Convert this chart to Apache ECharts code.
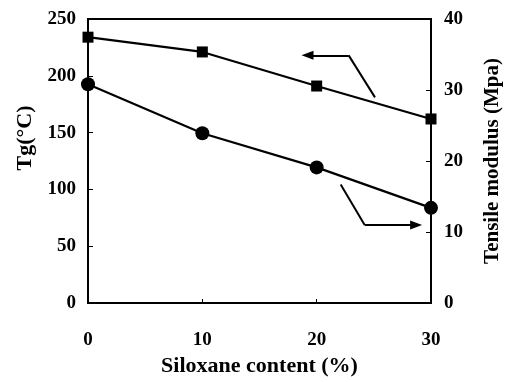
<!DOCTYPE html>
<html>
<head>
<meta charset="utf-8">
<script src="https://cdn.jsdelivr.net/npm/echarts@6/dist/echarts.min.js"></script>
<style>
  html, body { margin: 0; padding: 0; background: #fff; }
  #chart { width: 511px; height: 382px; }
</style>
</head>
<body>
<div id="chart"></div>
<script>
// siloxane content (%) on x
const siloxane = [0, 10, 20, 30];
// Tg (left axis), squares
const tgValues = [234, 221, 191, 162];
// tensile modulus (right axis), circles
const modulusValues = [30.8, 23.9, 19.1, 13.4];

// arrow paths in data units: [x, y]
const tgArrow = [[25.1, 181], [22.8, 218], [19.2, 218]];
const modArrow = [[22.1, 16.7], [24.2, 11.0], [28.7, 11.0]];

const font = 'Liberation Serif';
const black = '#000';

const arrowLines = (pts) => [
  [{ coord: pts[0], symbol: 'none' }, { coord: pts[1], symbol: 'none' }],
  [{ coord: pts[1], symbol: 'none' }, { coord: pts[2], symbol: 'triangle', symbolSize: [9, 12] }],
];

const chart = echarts.init(document.getElementById('chart'));

chart.setOption({
  animation: false,
  grid: {
    left: 88, right: 76, top: 19, bottom: 75,
    show: true, borderColor: black, borderWidth: 2, backgroundColor: 'transparent',
  },
  xAxis: {
    type: 'value', min: 0, max: 30, interval: 10,
    name: 'Siloxane content (%)', nameLocation: 'middle', nameGap: 52,
    nameTextStyle: { fontFamily: font, fontWeight: 'bold', fontSize: 22, color: black },
    axisLine: { lineStyle: { color: black, width: 2 } },
    axisTick: { inside: true, length: 4, lineStyle: { color: black } },
    axisLabel: { margin: 28, fontFamily: font, fontWeight: 'bold', fontSize: 19, color: black },
    splitLine: { show: false },
  },
  yAxis: [
    {
      type: 'value', min: 0, max: 250, interval: 50, position: 'left',
      name: 'Tg(°C)', nameLocation: 'middle', nameGap: 48, nameRotate: 90,
      nameTextStyle: { fontFamily: font, fontWeight: 'bold', fontSize: 22, color: black, padding: [0, 0, 0, 46] },
      axisLine: { show: true, lineStyle: { color: black, width: 2 } },
      axisTick: { show: true, inside: true, length: 5, lineStyle: { color: black } },
      axisLabel: { margin: 12, fontFamily: font, fontWeight: 'bold', fontSize: 19, color: black },
      splitLine: { show: false },
    },
    {
      type: 'value', min: 0, max: 40, interval: 10, position: 'right',
      name: 'Tensile modulus (Mpa)', nameLocation: 'middle', nameGap: 51, nameRotate: 90,
      nameTextStyle: { fontFamily: font, fontWeight: 'bold', fontSize: 21, color: black },
      axisLine: { show: true, lineStyle: { color: black, width: 2 } },
      axisTick: { show: true, inside: true, length: 5, lineStyle: { color: black } },
      axisLabel: { margin: 13, fontFamily: font, fontWeight: 'bold', fontSize: 19, color: black },
      splitLine: { show: false },
    },
  ],
  series: [
    {
      name: 'Tg', type: 'line', yAxisIndex: 0,
      data: siloxane.map((x, i) => [x, tgValues[i]]),
      symbol: 'rect', symbolSize: 11,
      itemStyle: { color: black },
      lineStyle: { color: black, width: 2.2 },
      markLine: {
        silent: true, animation: false,
        lineStyle: { color: black, width: 2, type: 'solid' },
        label: { show: false },
        data: arrowLines(tgArrow),
      },
    },
    {
      name: 'Tensile modulus', type: 'line', yAxisIndex: 1,
      data: siloxane.map((x, i) => [x, modulusValues[i]]),
      symbol: 'circle', symbolSize: 14,
      itemStyle: { color: black },
      lineStyle: { color: black, width: 2.2 },
      markLine: {
        silent: true, animation: false,
        lineStyle: { color: black, width: 2, type: 'solid' },
        label: { show: false },
        data: arrowLines(modArrow),
      },
    },
  ],
});
</script>
</body>
</html>
